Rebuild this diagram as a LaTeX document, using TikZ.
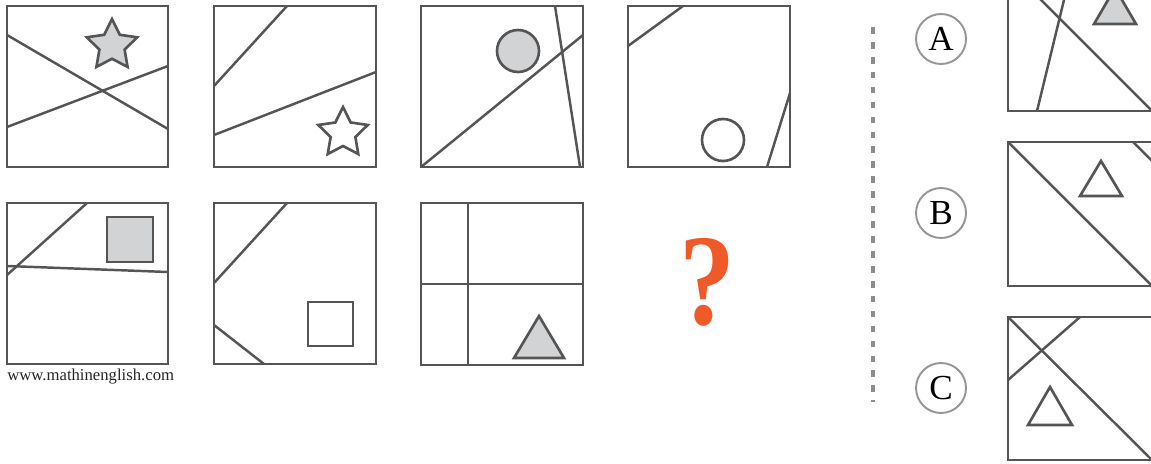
\documentclass[tikz,border=0pt]{standalone}
\usepackage{fontspec}
\setmainfont{Liberation Serif}
\usetikzlibrary{positioning}
\definecolor{lineg}{RGB}{85,85,85}
\definecolor{fillg}{RGB}{210,211,213}
\definecolor{qorange}{RGB}{240,90,40}
\definecolor{ringg}{RGB}{150,150,150}
\definecolor{dashg}{RGB}{140,140,140}
\tikzset{
  panel/.style={draw=lineg, line width=1.5pt},
  cutline/.style={draw=lineg, line width=1.4pt},
  filled/.style={draw=lineg, line width=1.5pt, fill=fillg},
  hollow/.style={draw=lineg, line width=1.5pt},
  optlabel/.style={circle, draw=ringg, line width=1.1pt, minimum size=1cm,
    inner sep=0pt, font=\fontsize{20}{20}\selectfont}
}
% five-pointed star: style, x, y, outer radius
\newcommand{\pzstar}[4]{%
  \draw[#1, shift={(#2,#3)}] (-90:#4)
    \foreach \k in {1,...,9} { -- ({-90+36*\k}:{(1-0.5*mod(\k,2))*#4}) } -- cycle;}
\begin{document}
\begin{tikzpicture}[x=0.02cm, y=-0.02cm]
  \clip (0,0) rectangle (1151,463);
  % Row 1, panel 1: two crossing lines, grey star
  \draw[panel] (7,6) rectangle (168,167);
  \draw[cutline] (7,35) -- (168,129);
  \draw[cutline] (7,127) -- (168,66);
  \pzstar{filled}{112}{45.5}{26.5}
  % Row 1, panel 2: two lines, white star
  \draw[panel] (214,6) rectangle (376,167);
  \draw[cutline] (214,86) -- (287,6);
  \draw[cutline] (214,135) -- (376,72);
  \pzstar{hollow}{343}{133}{26}
  % Row 1, panel 3: grey circle
  \draw[panel] (421,6) rectangle (583,167);
  \draw[cutline] (421,167) -- (583,35);
  \draw[cutline] (555,6) -- (580,167);
  \draw[filled] (518,51) circle (21);
  % Row 1, panel 4: white circle
  \draw[panel] (628,6) rectangle (790,167);
  \draw[cutline] (628,46) -- (683,6);
  \draw[cutline] (767,167) -- (790,93);
  \draw[hollow] (723,140) circle (21);
  % Row 2, panel 1: grey square
  \draw[panel] (7,203) rectangle (168,364);
  \draw[cutline] (7,275) -- (87,203);
  \draw[cutline] (7,266) -- (168,272);
  \draw[filled] (107,217) rectangle (153,262);
  % Row 2, panel 2: white square
  \draw[panel] (214,203) rectangle (376,364);
  \draw[cutline] (214,283) -- (287,203);
  \draw[cutline] (214,325) -- (264,364);
  \draw[hollow] (308,302) rectangle (353,346);
  % Row 2, panel 3: cross lines, grey triangle
  \draw[panel] (421,203) rectangle (583,365);
  \draw[cutline] (468,203) -- (468,365);
  \draw[cutline] (421,284) -- (583,284);
  \draw[filled] (539,316) -- (564,358) -- (514,358) -- cycle;
  % Missing panel
  \node[text=qorange, font=\fontsize{74}{74}\selectfont\bfseries] (qmark) at (707,282)
    {\scalebox{0.86}[1]{?}};
  \node[anchor=base west, inner sep=0pt, text=black!85,
    font=\fontsize{9.5}{9.5}\selectfont] (site) at (7,380) {www.mathinenglish.com};
  % Separator
  \draw[dashg, line width=2.3pt, dash pattern=on 3.8pt off 4.7pt] (873,27) -- (873,402);
  % Option A
  \node[optlabel] (optA) at (941,39) {A};
  \draw[panel] (1008,-33) rectangle (1153,111);
  \draw[cutline] (1008,-33) -- (1152,111);
  \draw[cutline] (1037,111) -- (1072,-33);
  \draw[filled] (1115,-12) -- (1136,24) -- (1094,24) -- cycle;
  % Option B
  \node[optlabel] (optB) at (941,213) {B};
  \draw[panel] (1008,142) rectangle (1153,286);
  \draw[cutline] (1008,142) -- (1152,286);
  \draw[cutline] (1133,142) -- (1177,186);
  \draw[hollow] (1101,161) -- (1122,196) -- (1080,196) -- cycle;
  % Option C
  \node[optlabel] (optC) at (941,388) {C};
  \draw[panel] (1008,317) rectangle (1153,460);
  \draw[cutline] (1008,317) -- (1152,460);
  \draw[cutline] (1008,380) -- (1080,317);
  \draw[hollow] (1050,387) -- (1072,425) -- (1028,425) -- cycle;
\end{tikzpicture}
\end{document}
